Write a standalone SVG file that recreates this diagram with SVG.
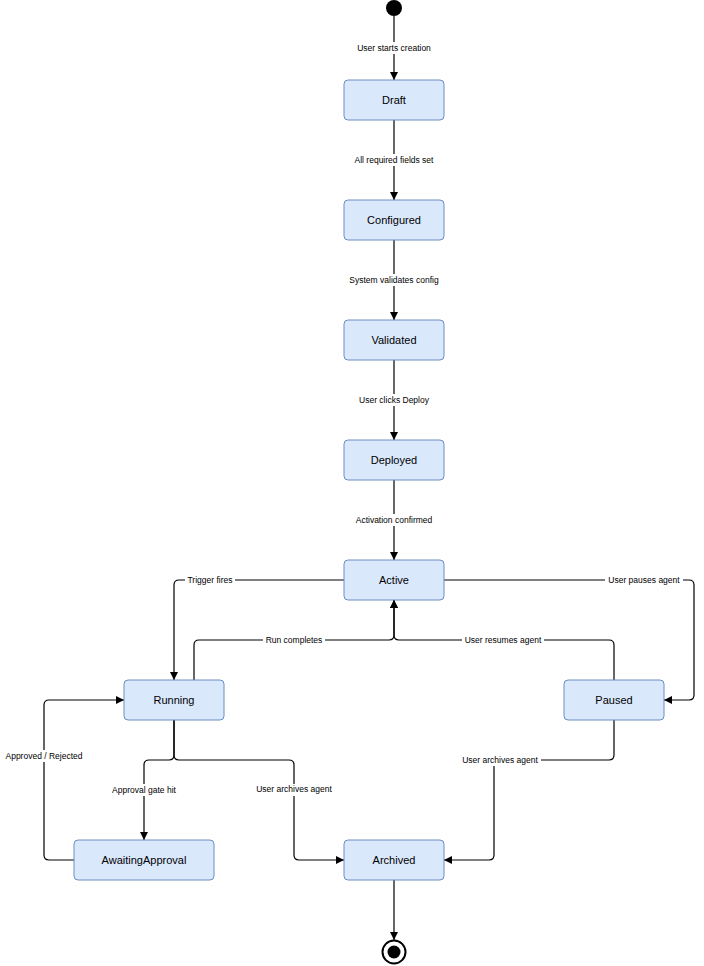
<svg xmlns="http://www.w3.org/2000/svg" width="704" height="966" viewBox="0 0 704 966">
<style>
.n rect{fill:#dae8fc;stroke:#6c8ebf;stroke-width:1}
.n text{font-family:"Liberation Sans",Arial,sans-serif;font-size:11px;fill:#000;text-anchor:middle;dominant-baseline:central}
.e path{fill:none;stroke:#000;stroke-width:1.2}
.l{font-family:"Liberation Sans",Arial,sans-serif;font-size:8.5px;fill:#000;text-anchor:middle;dominant-baseline:central}
.bg{fill:#fff}
</style>
<defs><marker id="a" viewBox="0 0 10 10" refX="10" refY="5" markerWidth="8" markerHeight="8" markerUnits="userSpaceOnUse" orient="auto"><path d="M0,0L10,5L0,10z" fill="#000"/></marker></defs>
<rect width="704" height="966" fill="#fff"/>
<g class="e" id="connectors">
<path d="M394,16V80" marker-end="url(#a)"/>
<path d="M394,120V200" marker-end="url(#a)"/>
<path d="M394,240V320" marker-end="url(#a)"/>
<path d="M394,360V440" marker-end="url(#a)"/>
<path d="M394,480V560" marker-end="url(#a)"/>
<path d="M344,580H179Q174,580 174,585V680" marker-end="url(#a)"/>
<path d="M194,680V645Q194,640 199,640H389Q394,640 394,635V600" marker-end="url(#a)"/>
<path d="M444,580H689Q694,580 694,585V695Q694,700 689,700H664" marker-end="url(#a)"/>
<path d="M614,680V645Q614,640 609,640H399Q394,640 394,635V600" marker-end="url(#a)"/>
<path d="M174,720V755Q174,760 169,760H149Q144,760 144,765V840" marker-end="url(#a)"/>
<path d="M174,720V755Q174,760 179,760H289Q294,760 294,765V855Q294,860 299,860H344" marker-end="url(#a)"/>
<path d="M74,860H49Q44,860 44,855V705Q44,700 49,700H124" marker-end="url(#a)"/>
<path d="M614,720V755Q614,760 609,760H499Q494,760 494,765V855Q494,860 489,860H444" marker-end="url(#a)"/>
<path d="M394,880V940" marker-end="url(#a)"/>
</g>
<g id="labels">
<rect class="bg" x="352" y="42" width="84" height="12"/><text class="l" x="394" y="48">User starts creation</text>
<rect class="bg" x="350" y="154" width="88" height="12"/><text class="l" x="394" y="160">All required fields set</text>
<rect class="bg" x="344" y="274" width="100" height="12"/><text class="l" x="394" y="280">System validates config</text>
<rect class="bg" x="355" y="394" width="78" height="12"/><text class="l" x="394" y="400">User clicks Deploy</text>
<rect class="bg" x="351" y="514" width="86" height="12"/><text class="l" x="394" y="520">Activation confirmed</text>
<rect class="bg" x="185" y="574" width="50" height="12"/><text class="l" x="210" y="580">Trigger fires</text>
<rect class="bg" x="263" y="634" width="62" height="12"/><text class="l" x="294" y="640">Run completes</text>
<rect class="bg" x="605" y="574" width="78" height="12"/><text class="l" x="644" y="580">User pauses agent</text>
<rect class="bg" x="462" y="634" width="82" height="12"/><text class="l" x="503" y="640">User resumes agent</text>
<rect class="bg" x="109" y="784" width="70" height="12"/><text class="l" x="144" y="790">Approval gate hit</text>
<rect class="bg" x="253" y="784" width="82" height="12"/><text class="l" x="294" y="789">User archives agent</text>
<rect class="bg" x="2" y="750" width="84" height="12"/><text class="l" x="44" y="756">Approved / Rejected</text>
<rect class="bg" x="459" y="754" width="82" height="12"/><text class="l" x="500" y="760">User archives agent</text>
</g>
<g id="start"><circle cx="394" cy="8" r="8" fill="#000"/></g>
<g id="draft" class="n"><rect x="344" y="80" width="100" height="40" rx="4"/><text x="394" y="100">Draft</text></g>
<g id="configured" class="n"><rect x="344" y="200" width="100" height="40" rx="4"/><text x="394" y="220">Configured</text></g>
<g id="validated" class="n"><rect x="344" y="320" width="100" height="40" rx="4"/><text x="394" y="340">Validated</text></g>
<g id="deployed" class="n"><rect x="344" y="440" width="100" height="40" rx="4"/><text x="394" y="460">Deployed</text></g>
<g id="active" class="n"><rect x="344" y="560" width="100" height="40" rx="4"/><text x="394" y="580">Active</text></g>
<g id="running" class="n"><rect x="124" y="680" width="100" height="40" rx="4"/><text x="174" y="700">Running</text></g>
<g id="paused" class="n"><rect x="564" y="680" width="100" height="40" rx="4"/><text x="614" y="700">Paused</text></g>
<g id="awaiting" class="n"><rect x="74" y="840" width="140" height="40" rx="4"/><text x="144" y="860">AwaitingApproval</text></g>
<g id="archived" class="n"><rect x="344" y="840" width="100" height="40" rx="4"/><text x="394" y="860">Archived</text></g>
<g id="end"><circle cx="394" cy="952" r="11.5" fill="#fff" stroke="#000" stroke-width="2"/><circle cx="394" cy="952" r="6.5" fill="#000"/></g>
</svg>
